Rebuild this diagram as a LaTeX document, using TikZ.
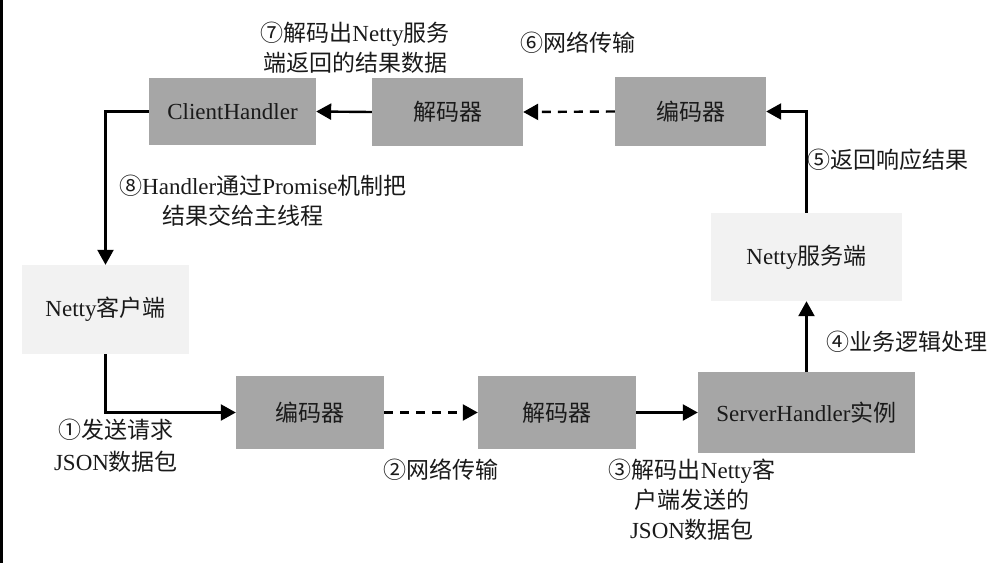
\documentclass[tikz,border=0pt]{standalone}
\usepackage{fontspec}
\setmainfont{Liberation Serif}
\newfontfamily\cjk{Noto Sans CJK SC}
\newcommand\zh[1]{{\cjk #1}}
\usetikzlibrary{arrows.meta}
\definecolor{boxdark}{HTML}{A6A6A6}
\definecolor{boxlight}{HTML}{F2F2F2}
\definecolor{txt}{HTML}{1A1A1A}
\begin{document}
\begin{tikzpicture}[x=1pt,y=-1pt,
  base/.style={draw=none,inner sep=0pt,text=txt,font=\fontsize{23}{30}\selectfont},
  dark/.style={base,fill=boxdark},
  light/.style={base,fill=boxlight},
  arr/.style={line width=2.4pt,-{Triangle[length=15pt,width=16pt]}},
  dsh/.style={arr,dash pattern=on 9pt off 7pt},
  lbl/.style={inner sep=0pt,text=txt,align=center,font=\fontsize{23}{30}\selectfont}]
\useasboundingbox[fill=white] (0,0) rectangle (997,563);
\fill[black] (0,0) rectangle (3,563);
% boxes
\node[dark,minimum width=167pt,minimum height=67pt] (ch) at (232.5,111.5) {ClientHandler};
\node[dark,minimum width=151pt,minimum height=68pt] (dec1) at (447.5,112) {\zh{解码器}};
\node[dark,minimum width=151pt,minimum height=69pt] (enc1) at (690.5,111.5) {\zh{编码器}};
\node[light,minimum width=191pt,minimum height=88pt] (srv) at (806.5,257) {Netty\zh{服务端}};
\node[light,minimum width=167pt,minimum height=89pt] (cli) at (105.5,309.5) {Netty\zh{客户端}};
\node[dark,minimum width=148pt,minimum height=73pt] (enc2) at (310,412.5) {\zh{编码器}};
\node[dark,minimum width=158pt,minimum height=73pt] (dec2) at (557,412.5) {\zh{解码器}};
\node[dark,minimum width=217pt,minimum height=81pt] (sh) at (806.5,412.5) {ServerHandler\zh{实例}};
% connectors
\draw[arr] (cli.south) |- (enc2.west);
\draw[dsh] (enc2.east) -- (dec2.west);
\draw[arr] (dec2.east) -- (sh.west);
\draw[arr] (sh.north) -- (srv.south);
\draw[arr] (srv.north) |- (enc1.east);
\draw[dsh] (enc1.west) -- (dec1.east);
\draw[arr] (dec1.west) -- (ch.east);
\draw[arr] (ch.west) -| (cli.north);
% labels
\node[lbl] (l1) at (116,446) {\zh{①发送请求}\\[2pt]JSON\zh{数据包}};
\node[lbl] (l2) at (441,470) {\zh{②网络传输}};
\node[lbl] (l3) at (692,500) {\zh{③解码出}Netty\zh{客}\\\zh{户端发送的}\\JSON\zh{数据包}};
\node[lbl] (l4) at (907,342) {\zh{④业务逻辑处理}};
\node[lbl] (l5) at (888,160) {\zh{⑤返回响应结果}};
\node[lbl] (l6) at (578,43) {\zh{⑥网络传输}};
\node[lbl] (l7) at (355,48) {\zh{⑦解码出}Netty\zh{服务}\\\zh{端返回的结果数据}};
\node[lbl,align=left,anchor=west] (l8) at (119,201) {\zh{⑧}Handler\zh{通过}Promise\zh{机制把}\\\hspace*{43pt}\zh{结果交给主线程}};
\end{tikzpicture}
\end{document}
